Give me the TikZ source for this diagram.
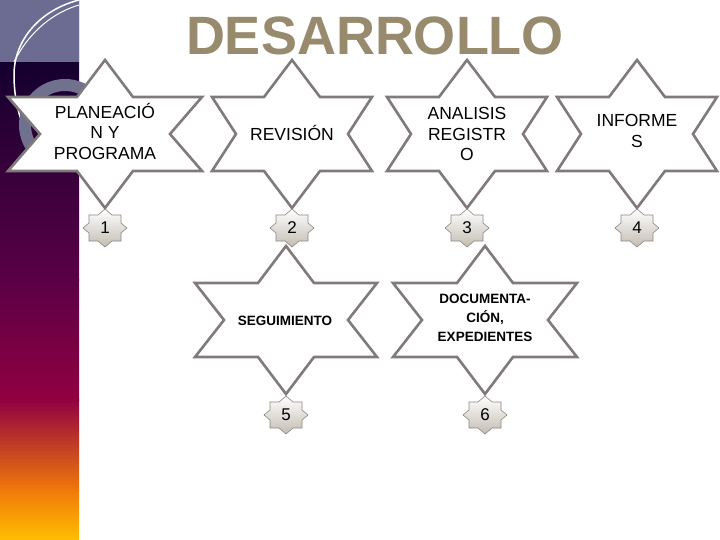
\documentclass[tikz,border=0pt]{standalone}
\usepackage{fontspec}
\setmainfont{Liberation Sans}
\begin{document}
\begin{tikzpicture}[x=1pt,y=-1pt,
  bigstar/.style={draw=starline,line width=2.6pt,fill=white,line join=miter},
  badge/.style={draw=badgeline,line width=0.6pt,top color=white,bottom color=badgefill,shading angle=0},
  lab/.style={align=center,font=\fontsize{17.5}{20.5}\selectfont},
  blab/.style={align=center,font=\bfseries\fontsize{13.5}{19}\selectfont},
  num/.style={font=\fontsize{17}{19}\selectfont}]
\definecolor{starline}{RGB}{128,122,122}
\definecolor{badgeline}{RGB}{140,135,130}
\definecolor{badgefill}{RGB}{195,188,178}
\definecolor{titlec}{RGB}{152,138,108}
\useasboundingbox (0,0) rectangle (720,540);
\fill[white] (0,0) rectangle (720,540);
% left gradient bar
\shade[top color=black!60!blue!40!black,bottom color={rgb,255:red,90;green,0;blue,70}] (0,0) rectangle (79,280);
\shade[top color={rgb,255:red,90;green,0;blue,70},bottom color={rgb,255:red,145;green,0;blue,65}] (0,279) rectangle (79,400);
\shade[top color={rgb,255:red,145;green,0;blue,65},bottom color={rgb,255:red,240;green,120;blue,10}] (0,399) rectangle (79,490);
\shade[top color={rgb,255:red,240;green,120;blue,10},bottom color={rgb,255:red,255;green,190;blue,0}] (0,489) rectangle (79,540);
\fill[gray!70!blue!50!gray] (0,0) rectangle (79,62);
\draw[white,line width=1.5pt] (79,0) .. controls (40,10) and (14,40) .. (14,75) .. controls (14,100) and (20,120) .. (26,132);
\draw[white,line width=1pt] (14,62) .. controls (30,30) and (55,12) .. (79,5);
\draw[gray!80!blue!60!gray,line width=12pt] (65,125) circle (40);
% title
\node (title) at (375,36) {\color{titlec}\fontsize{54}{60}\selectfont\bfseries DESARROLLO};
% stars
\foreach \x/\y/\w/\d in {105/134/97/32,292/134/80/24,467/134/80/24,637/134/80/24,286/320/91/29,485/320/92/29}{
  \pgfmathsetmacro{\e}{\w-28}
  \draw[bigstar] (\x,\y) ++(0,-74) -- ++(-28,37) -- ++(-\e,0) -- ++(\d,37) -- ++(-\d,37) -- ++(\e,0) -- ++(28,37) -- ++(28,-37) -- ++(\e,0) -- ++(-\d,-37) -- ++(\d,-37) -- ++(-\e,0) -- cycle;
}
\foreach \x/\y in {105/228,292/228,467/228,637/228,286/415,485/415}{
  \draw[badge] (\x,\y) ++(0,-19) -- ++(7,6) -- ++(9,0) -- ++(0,8) -- ++(6,5) -- ++(-6,5) -- ++(0,8) -- ++(-9,0) -- ++(-7,6) -- ++(-7,-6) -- ++(-9,0) -- ++(0,-8) -- ++(-6,-5) -- ++(6,-5) -- ++(0,-8) -- ++(9,0) -- cycle;
}
\node[lab] (s1) at (105,131) {PLANEACIÓ\\N Y\\PROGRAMA};
\node[lab] (s2) at (292,133) {REVISIÓN};
\node[lab] (s3) at (467,134) {ANALISIS\\REGISTR\\O};
\node[lab] (s4) at (637,131) {INFORME\\S};
\node[blab] (s5) at (285,321) {SEGUIMIENTO};
\node[blab] (s6) at (485,318) {DOCUMENTA-\\CIÓN,\\EXPEDIENTES};
\foreach \n/\t/\x/\y in {b1/1/105/228,b2/2/292/228,b3/3/467/228,b4/4/637/228,b5/5/286/415,b6/6/485/415}{
  \node[num] (\n) at (\x,\y) {\t};
}
\end{tikzpicture}
\end{document}
